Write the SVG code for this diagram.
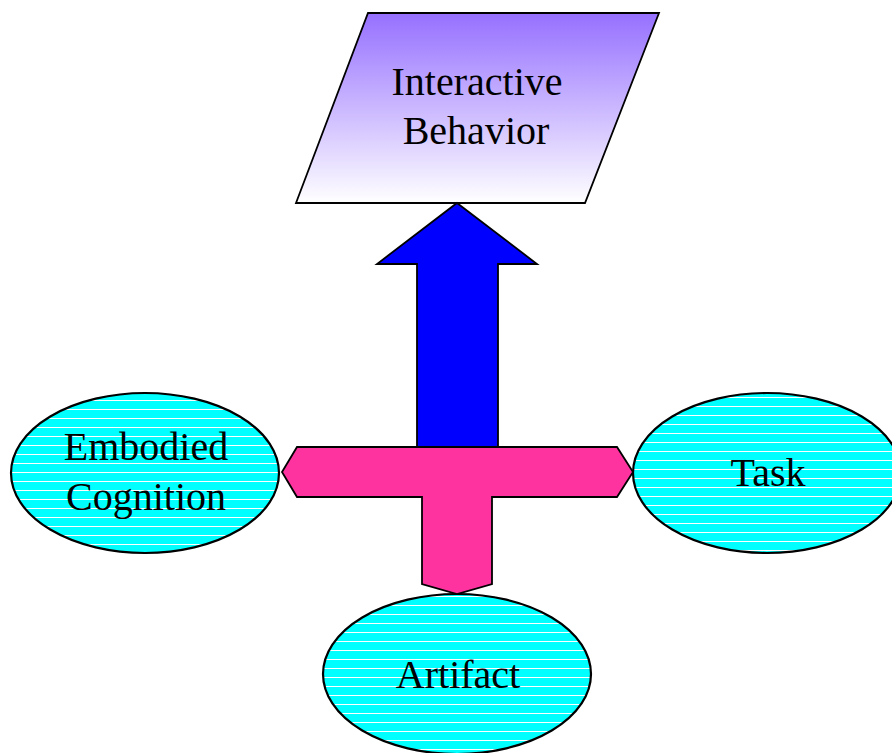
<svg xmlns="http://www.w3.org/2000/svg" width="892" height="753" viewBox="0 0 892 753">
  <defs>
    <linearGradient id="behaviorFill" x1="0" y1="0" x2="0" y2="1">
      <stop offset="0" stop-color="#9670ff"/>
      <stop offset="1" stop-color="#ffffff"/>
    </linearGradient>
    <pattern id="stripesA" patternUnits="userSpaceOnUse" x="0" y="4" width="20" height="9">
      <rect width="20" height="9" fill="#00ffff" shape-rendering="crispEdges"/>
      <rect y="0" width="20" height="1" fill="#ffffff" shape-rendering="crispEdges"/>
    </pattern>
    <pattern id="stripesB" patternUnits="userSpaceOnUse" x="0" y="1" width="20" height="9">
      <rect width="20" height="9" fill="#00ffff" shape-rendering="crispEdges"/>
      <rect y="0" width="20" height="1" fill="#ffffff" shape-rendering="crispEdges"/>
    </pattern>
    <pattern id="stripesC" patternUnits="userSpaceOnUse" x="0" y="2" width="20" height="9">
      <rect width="20" height="9" fill="#00ffff" shape-rendering="crispEdges"/>
      <rect y="0" width="20" height="1" fill="#ffffff" shape-rendering="crispEdges"/>
    </pattern>
  </defs>
  <style>
    .label { font-family: "Liberation Serif", "Times New Roman", serif; font-size: 40px; fill: #000000; text-anchor: middle; }
    .oval { stroke: #000000; stroke-width: 2.2; }
    .shape { stroke: #000000; stroke-width: 1.8; stroke-linejoin: miter; }
  </style>

  <rect width="892" height="753" fill="#ffffff"/>

  <!-- top parallelogram -->
  <g id="interactive-behavior">
    <polygon class="shape" points="368,13 659,13 585,203 296,203" fill="url(#behaviorFill)"/>
    <text class="label" x="477" y="95">Interactive</text>
    <text class="label" x="476" y="144">Behavior</text>
  </g>

  <!-- ovals -->
  <g id="embodied-cognition">
    <ellipse class="oval" cx="145" cy="473" rx="134" ry="80" fill="url(#stripesA)"/>
    <text class="label" x="146" y="460">Embodied</text>
    <text class="label" x="146" y="510">Cognition</text>
  </g>

  <g id="task">
    <ellipse class="oval" cx="767" cy="473" rx="134" ry="80" fill="url(#stripesB)"/>
    <text class="label" x="768" y="486">Task</text>
  </g>

  <g id="artifact">
    <ellipse class="oval" cx="457" cy="674" rx="134" ry="80" fill="url(#stripesC)"/>
    <text class="label" x="458" y="688">Artifact</text>
  </g>

  <!-- block arrows -->
  <g id="connectors">
    <polygon class="shape" points="457,203 537,264 498,264 498,447 417,447 417,264 377,264" fill="#0000ff"/>
    <polygon class="shape" points="297,447 617,447 633,472 617,497 492,497 492,584 457,594 422,584 422,497 297,497 282,472" fill="#ff33a0"/>
  </g>
</svg>
